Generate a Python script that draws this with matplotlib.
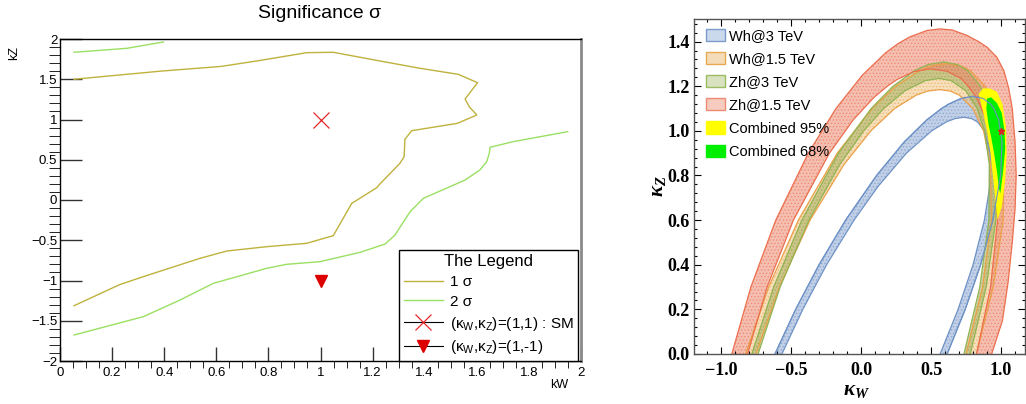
import numpy as np
import matplotlib.pyplot as plt
from matplotlib.lines import Line2D
from matplotlib.patches import Patch
from matplotlib.ticker import MultipleLocator

plt.rcParams['font.family'] = ['Liberation Sans', 'DejaVu Sans']
plt.rcParams['mathtext.fontset'] = 'custom'
plt.rcParams['mathtext.rm'] = 'Liberation Sans'
plt.rcParams['mathtext.it'] = 'Liberation Sans'
plt.rcParams['mathtext.bf'] = 'Liberation Serif:italic:bold'
plt.rcParams['hatch.linewidth'] = 0.6

# ---- left panel: significance contours (kW, kZ) ----
sig1_kw = [0.054, 0.384, 0.62, 0.755, 0.947, 1.049, 1.228, 1.382, 1.529, 1.603, 1.555, 1.571,
           1.60, 1.525, 1.350, 1.324, 1.321, 1.305, 1.228, 1.216, 1.145, 1.12, 1.049, 0.947,
           0.793, 0.64, 0.537, 0.32, 0.23, 0.054]
sig1_kz = [1.50, 1.60, 1.66, 1.727, 1.83, 1.835, 1.727, 1.636, 1.561, 1.457, 1.255, 1.159,
           1.056, 0.952, 0.861, 0.753, 0.538, 0.456, 0.199, 0.153, 0.009, -0.041, -0.443, -0.538,
           -0.58, -0.634, -0.725, -0.952, -1.05, -1.313]
sig2a_kw = [0.054, 0.256, 0.397]
sig2a_kz = [1.835, 1.884, 1.963]
sig2b_kw = [0.054, 0.32, 0.461, 0.589, 0.793, 0.87, 0.998, 1.152, 1.248, 1.286, 1.344, 1.395,
            1.555, 1.612, 1.638, 1.648, 1.651, 1.74, 1.949]
sig2b_kz = [-1.677, -1.449, -1.242, -1.035, -0.849, -0.799, -0.766, -0.65, -0.547, -0.435, -0.145, 0.021,
            0.248, 0.373, 0.476, 0.58, 0.655, 0.725, 0.849]
sm_point = (1, 1)
alt_point = (1, -1)

# ---- right panel: allowed bands (kappa_W, kappa_Z) ----
wh3_outer = [(-0.615, 0), (-0.467, 0.2), (-0.300, 0.4), (-0.110, 0.6), (0.111, 0.8), (0.308, 0.95),
             (0.471, 1.05), (0.575, 1.1), (0.626, 1.12), (0.713, 1.145), (0.800, 1.155), (0.873, 1.145),
             (0.925, 1.12), (0.949, 1.1), (0.983, 1.05), (1.007, 0.95), (0.997, 0.8), (0.941, 0.6),
             (0.854, 0.4), (0.744, 0.2), (0.615, 0)]
wh3_inner = [(-0.565, 0), (-0.416, 0.2), (-0.246, 0.4), (-0.050, 0.6), (0.120, 0.75), (0.324, 0.9),
             (0.504, 1.0), (0.609, 1.04), (0.671, 1.055), (0.735, 1.061), (0.790, 1.055), (0.832, 1.04),
             (0.881, 1.0), (0.922, 0.9), (0.919, 0.75), (0.881, 0.6), (0.800, 0.4), (0.693, 0.2),
             (0.565, 0)]
wh15_outer = [(-0.824, 0), (-0.660, 0.3), (-0.448, 0.6), (-0.170, 0.9), (0.079, 1.1), (0.248, 1.2),
              (0.419, 1.27), (0.499, 1.29), (0.615, 1.302), (0.720, 1.29), (0.781, 1.27), (0.886, 1.2),
              (0.960, 1.1), (1.021, 0.9), (1.015, 0.6), (0.944, 0.3), (0.824, 0)]
wh15_inner = [(-0.750, 0), (-0.584, 0.3), (-0.364, 0.6), (-0.121, 0.85), (0.070, 1.0), (0.240, 1.1),
              (0.394, 1.16), (0.474, 1.178), (0.560, 1.185), (0.639, 1.178), (0.702, 1.16), (0.799, 1.1),
              (0.875, 1.0), (0.924, 0.85), (0.931, 0.6), (0.868, 0.3), (0.750, 0)]
zh3_outer = [(-0.780, 0), (-0.624, 0.3), (-0.423, 0.6), (-0.161, 0.9), (0.072, 1.1), (0.228, 1.2),
             (0.382, 1.27), (0.478, 1.297), (0.589, 1.309), (0.690, 1.297), (0.761, 1.27), (0.852, 1.2),
             (0.918, 1.1), (0.971, 0.9), (0.963, 0.6), (0.894, 0.3), (0.780, 0)]
zh3_inner = [(-0.735, 0), (-0.578, 0.3), (-0.373, 0.6), (-0.151, 0.85), (0.019, 1.0), (0.161, 1.1),
             (0.314, 1.18), (0.459, 1.225), (0.556, 1.235), (0.644, 1.225), (0.748, 1.18), (0.829, 1.1),
             (0.882, 1.0), (0.916, 0.85), (0.913, 0.6), (0.848, 0.3), (0.735, 0)]
zh15_outer = [(-0.923, 0), (-0.787, 0.3), (-0.609, 0.6), (-0.377, 0.9), (-0.179, 1.1), (0.010, 1.25),
              (0.176, 1.35), (0.262, 1.39), (0.344, 1.42), (0.472, 1.45), (0.564, 1.457), (0.651, 1.452),
              (0.756, 1.428), (0.840, 1.40), (0.900, 1.375), (0.970, 1.33), (1.020, 1.27), (1.055, 1.19),
              (1.080, 1.10), (1.100, 0.95), (1.108, 0.80), (1.100, 0.65), (1.080, 0.50), (1.050, 0.32),
              (1.010, 0.15), (0.933, 0)]
zh15_inner = [(-0.810, 0), (-0.671, 0.3), (-0.483, 0.6), (-0.226, 0.9), (-0.055, 1.05), (0.092, 1.15),
              (0.187, 1.2), (0.257, 1.23), (0.376, 1.265), (0.495, 1.278), (0.615, 1.267), (0.715, 1.235),
              (0.765, 1.2), (0.825, 1.15), (0.895, 1.05), (0.952, 0.9), (0.975, 0.6), (0.925, 0.3),
              (0.825, 0)]
comb95 = [(0.84, 1.165), (0.87, 1.19), (0.92, 1.19), (0.97, 1.175), (1.01, 1.12), (1.035, 1.02),
          (1.04, 0.9), (1.03, 0.78), (1.005, 0.66), (0.975, 0.6), (0.965, 0.66), (0.945, 0.78),
          (0.925, 0.9), (0.9, 1.0), (0.87, 1.09)]
comb68 = [(0.9, 1.145), (0.93, 1.15), (0.97, 1.125), (1.005, 1.08), (1.025, 1.0), (1.03, 0.92),
          (1.015, 0.82), (0.995, 0.72), (0.985, 0.74), (0.97, 0.82), (0.95, 0.9), (0.93, 0.97),
          (0.91, 1.03), (0.895, 1.1)]
band_labels = ['Wh@3 TeV', 'Wh@1.5 TeV', 'Zh@3 TeV', 'Zh@1.5 TeV']

fig = plt.figure(figsize=(10.26, 4.04), dpi=100)
W, H = 1026, 404

# ================= left panel =================
ax1 = fig.add_axes([60 / W, 43 / H, 521 / W, 322 / H])
c1 = '#bfb23c'
c2 = '#9ae062'
ax1.plot(sig1_kw, sig1_kz, color=c1, lw=1.0)
ax1.plot(sig2a_kw, sig2a_kz, color=c2, lw=1.0)
ax1.plot(sig2b_kw, sig2b_kz, color=c2, lw=1.0)
ax1.plot(*sm_point, marker='x', color='#e8282a', ms=11, mew=0.9, ls='none')
ax1.plot(*alt_point, marker='v', color='#dd0000', ms=9, ls='none')
ax1.set_xlim(0, 2)
ax1.set_ylim(-2, 2)
xt = [0, 0.2, 0.4, 0.6, 0.8, 1, 1.2, 1.4, 1.6, 1.8, 2]
yt = [-2, -1.5, -1, -0.5, 0, 0.5, 1, 1.5, 2]
ax1.set_xticks(xt, ['0', '0.2', '0.4', '0.6', '0.8', '1', '1.2', '1.4', '1.6', '1.8', '2'])
ax1.set_yticks(yt, ['\u22122', '\u22121.5', '\u22121', '\u22120.5', '0', '0.5', '1', '1.5', '2'])
ax1.xaxis.set_minor_locator(MultipleLocator(0.05))
ax1.yaxis.set_minor_locator(MultipleLocator(0.1))
ax1.tick_params(direction='in', labelsize=9.5, color='#333333', width=1)
ax1.tick_params(axis='x', which='major', length=10, pad=4)
ax1.tick_params(axis='x', which='minor', length=5)
ax1.tick_params(axis='y', which='major', length=16, pad=2)
ax1.tick_params(axis='y', which='minor', length=8)
for s in ['left', 'bottom', 'top']:
    ax1.spines[s].set_linewidth(1.0)
ax1.spines['right'].set_color('#8a8a8a')
ax1.spines['right'].set_linewidth(2)
fig.text(320 / W, 1 - 13 / H, 'Significance \u03c3', ha='center', va='center', fontsize=14)
fig.text(568 / W, 1 - 385 / H, 'kW', ha='right', va='center', fontsize=9)
fig.text(14 / W, 1 - 46 / H, 'kZ', ha='center', va='top', rotation=90, fontsize=9)

handles1 = [Line2D([], [], color=c1, lw=1.0),
            Line2D([], [], color=c2, lw=1.0),
            Line2D([], [], color='black', lw=0.8, marker='x', mec='#e8282a', ms=11, mew=0.9),
            Line2D([], [], color='black', lw=0.8, marker='v', mec='#dd0000', mfc='#dd0000', ms=9)]
labels1 = ['1 \u03c3', '2 \u03c3',
           r'($\kappa_{W}$,$\kappa_{Z}$)=(1,1) : SM', r'($\kappa_{W}$,$\kappa_{Z}$)=(1,-1)']
leg1 = ax1.legend(handles1, labels1, title='The Legend', loc='lower left',
                  bbox_to_anchor=(399 / W, 43 / H), bbox_transform=fig.transFigure,
                  fontsize=11, title_fontsize=12, fancybox=False, framealpha=1,
                  edgecolor='black', borderpad=0.3, handlelength=2.6, handletextpad=0.45,
                  labelspacing=0.38, borderaxespad=0)
leg1.get_frame().set_linewidth(1.0)

# ================= right panel =================
ax2 = fig.add_axes([694 / W, 50 / H, 331 / W, 334.7 / H])
bands = [(wh3_outer, wh3_inner, '#6f93c6', '#8eaad4', 0.55),
         (wh15_outer, wh15_inner, '#eba047', '#f0c684', 0.55),
         (zh3_outer, zh3_inner, '#92b453', '#a3ad5c', 0.5),
         (zh15_outer, zh15_inner, '#ec6e4e', '#eb8a70', 0.55)]
for outer, inner, ec, fc, a in bands:
    o = np.array(outer)
    i = np.array(inner)
    ax2.fill(np.r_[o[:, 0], i[::-1, 0]], np.r_[o[:, 1], i[::-1, 1]], facecolor=fc,
             edgecolor=ec, alpha=a, lw=0, hatch='.....')
    ax2.plot(o[:, 0], o[:, 1], color=ec, lw=0.9)
    ax2.plot(i[:, 0], i[:, 1], color=ec, lw=0.9)
p95 = np.array(comb95)
p68 = np.array(comb68)
ax2.fill(p95[:, 0], p95[:, 1], color='#ffff00', zorder=5, lw=0)
ax2.fill(p68[:, 0], p68[:, 1], color='#00ee00', zorder=6, lw=0)
wo = np.array(wh3_outer)
ax2.plot(wo[:, 0], wo[:, 1], color='#6f93c6', lw=0.8, zorder=7)
ax2.plot(*sm_point, marker='*', color='#dd2222', ms=5, zorder=8)

ax2.set_xlim(-1.193, 1.171)
ax2.set_ylim(0, 1.5)
ax2.set_xticks([-1.0, -0.5, 0.0, 0.5, 1.0], ['\u22121.0', '\u22120.5', '0.0', '0.5', '1.0'])
ax2.set_yticks([0, 0.2, 0.4, 0.6, 0.8, 1.0, 1.2, 1.4],
               ['0.0', '0.2', '0.4', '0.6', '0.8', '1.0', '1.2', '1.4'])
ax2.xaxis.set_minor_locator(MultipleLocator(0.1))
ax2.yaxis.set_minor_locator(MultipleLocator(0.04))
ax2.tick_params(direction='in', top=True, right=True, which='both', width=0.8)
ax2.tick_params(which='major', length=5)
ax2.tick_params(which='minor', length=2.5)
for lab in ax2.get_xticklabels() + ax2.get_yticklabels():
    lab.set_fontfamily('Liberation Serif')
    lab.set_fontweight('bold')
    lab.set_fontsize(13)
ax2.tick_params(axis='x', pad=6)
ax2.tick_params(axis='y', pad=3)
for s in ax2.spines.values():
    s.set_color('#555555')
    s.set_linewidth(1.0)
fig.text(857 / W, 1 - 391 / H, r'$\mathbf{\kappa_W}$', ha='center', va='center', fontsize=15)
fig.text(659 / W, 1 - 186 / H, r'$\mathbf{\kappa_Z}$', ha='center', va='center', fontsize=15,
         rotation=90)

leg_face = ['#cbd9ec', '#f5dcb8', '#d8e2c0', '#f6cbc0', '#ffff00', '#00ee00']
leg_edge = ['#7a9ccc', '#e8aa50', '#9cbc60', '#ef8a70', '#ffff00', '#00ee00']
leg_text = band_labels + ['Combined 95%', 'Combined 68%']
handles2 = [Patch(facecolor=f, edgecolor=e, lw=1.0) for f, e in zip(leg_face, leg_edge)]
ax2.legend(handles2, leg_text, loc='upper left', bbox_to_anchor=(706 / W, 1 - 29 / H),
           bbox_transform=fig.transFigure, frameon=False, fontsize=10.5,
           handlelength=1.3, handleheight=0.9, handletextpad=0.3, labelspacing=0.62,
           borderpad=0, borderaxespad=0)

fig.savefig('out.png', dpi=100)
